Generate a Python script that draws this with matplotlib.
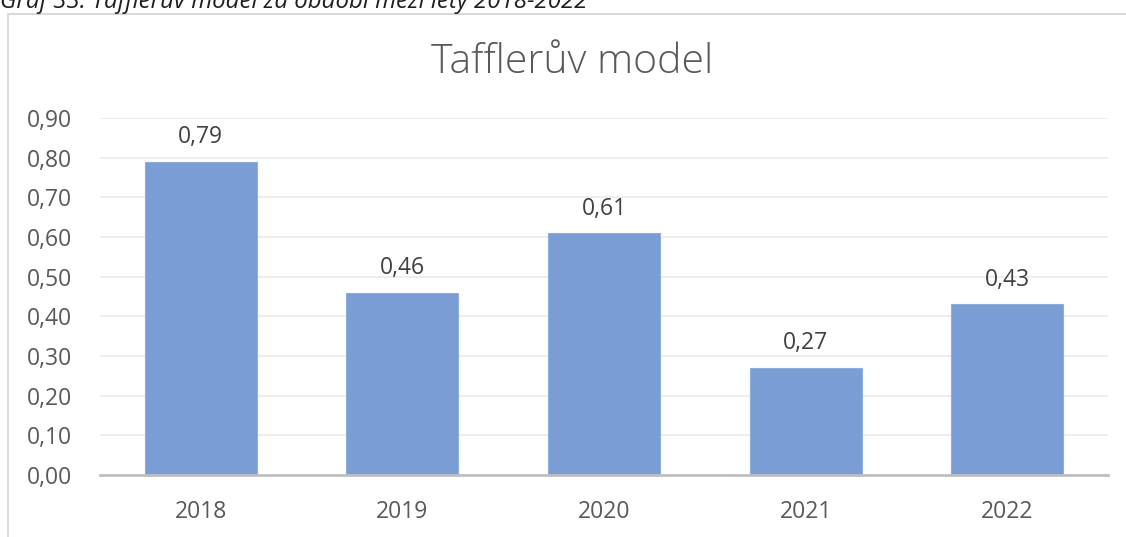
import matplotlib
matplotlib.use("Agg")
import matplotlib.pyplot as plt
from matplotlib.patches import Rectangle

years = ["2018", "2019", "2020", "2021", "2022"]
values = [0.79, 0.46, 0.61, 0.27, 0.43]
yticks = [0.0, 0.1, 0.2, 0.3, 0.4, 0.5, 0.6, 0.7, 0.8, 0.9]

W, H = 1126, 537
fig = plt.figure(figsize=(W / 100, H / 100), dpi=100)
fig.patch.set_facecolor("white")

FONT = ["Open Sans", "DejaVu Sans"]
TXT = "#595959"
FS = 16.5

# chart border
fig.patches.append(Rectangle((8 / W, -0.05), 1.2, (H - 14) / H + 0.05,
                             transform=fig.transFigure, fill=False,
                             edgecolor="#D9D9D9", linewidth=1.5))

# caption (cut off at top, as in the source)
fig.text(0 / W, 1 - 8 / H, "Graf 33: Tafflerův model za období mezi lety 2018-2022",
         fontsize=17.3, style="italic", family=FONT,
         color="#1F1F1F", ha="left", va="baseline")

left, right = 100 / W, 1108 / W
bottom, top = (H - 475) / H, (H - 118) / H
ax = fig.add_axes([left, bottom, right - left, top - bottom])

x = list(range(len(years)))
ax.bar(x, values, width=0.555, color="#7A9DD5", edgecolor="#8FAEE0",
       linewidth=0.8, zorder=3)
ax.set_xlim(-0.5, len(years) - 0.5)
ax.set_ylim(0, 0.9)
ax.set_yticks(yticks)
ax.set_yticklabels([f"{v:.2f}".replace(".", ",") for v in yticks],
                   fontsize=FS, color=TXT, family=FONT)
ax.set_xticks(x)
ax.set_xticklabels(years, fontsize=FS, color=TXT, family=FONT)
ax.tick_params(axis="y", length=0, pad=20)
ax.tick_params(axis="x", length=0, pad=18)
ax.grid(axis="y", color="#EBEBEB", linewidth=1.2, zorder=0)
for s in ["left", "right", "top"]:
    ax.spines[s].set_visible(False)
ax.spines["bottom"].set_color("#BFBFBF")
ax.spines["bottom"].set_linewidth(2)
ax.spines["bottom"].set_zorder(4)

for xi, v in zip(x, values):
    ax.annotate(f"{v:.2f}".replace(".", ","), (xi, v), xytext=(0, 9),
                textcoords="offset points", ha="center", va="bottom",
                fontsize=FS, color="#404040", family=FONT)

fig.text(572 / W, 1 - 73 / H, "Tafflerův model", fontsize=29.5, color=TXT,
         family=FONT, fontweight="light", ha="center", va="baseline")

fig.savefig("out.png", dpi=100, facecolor="white")
